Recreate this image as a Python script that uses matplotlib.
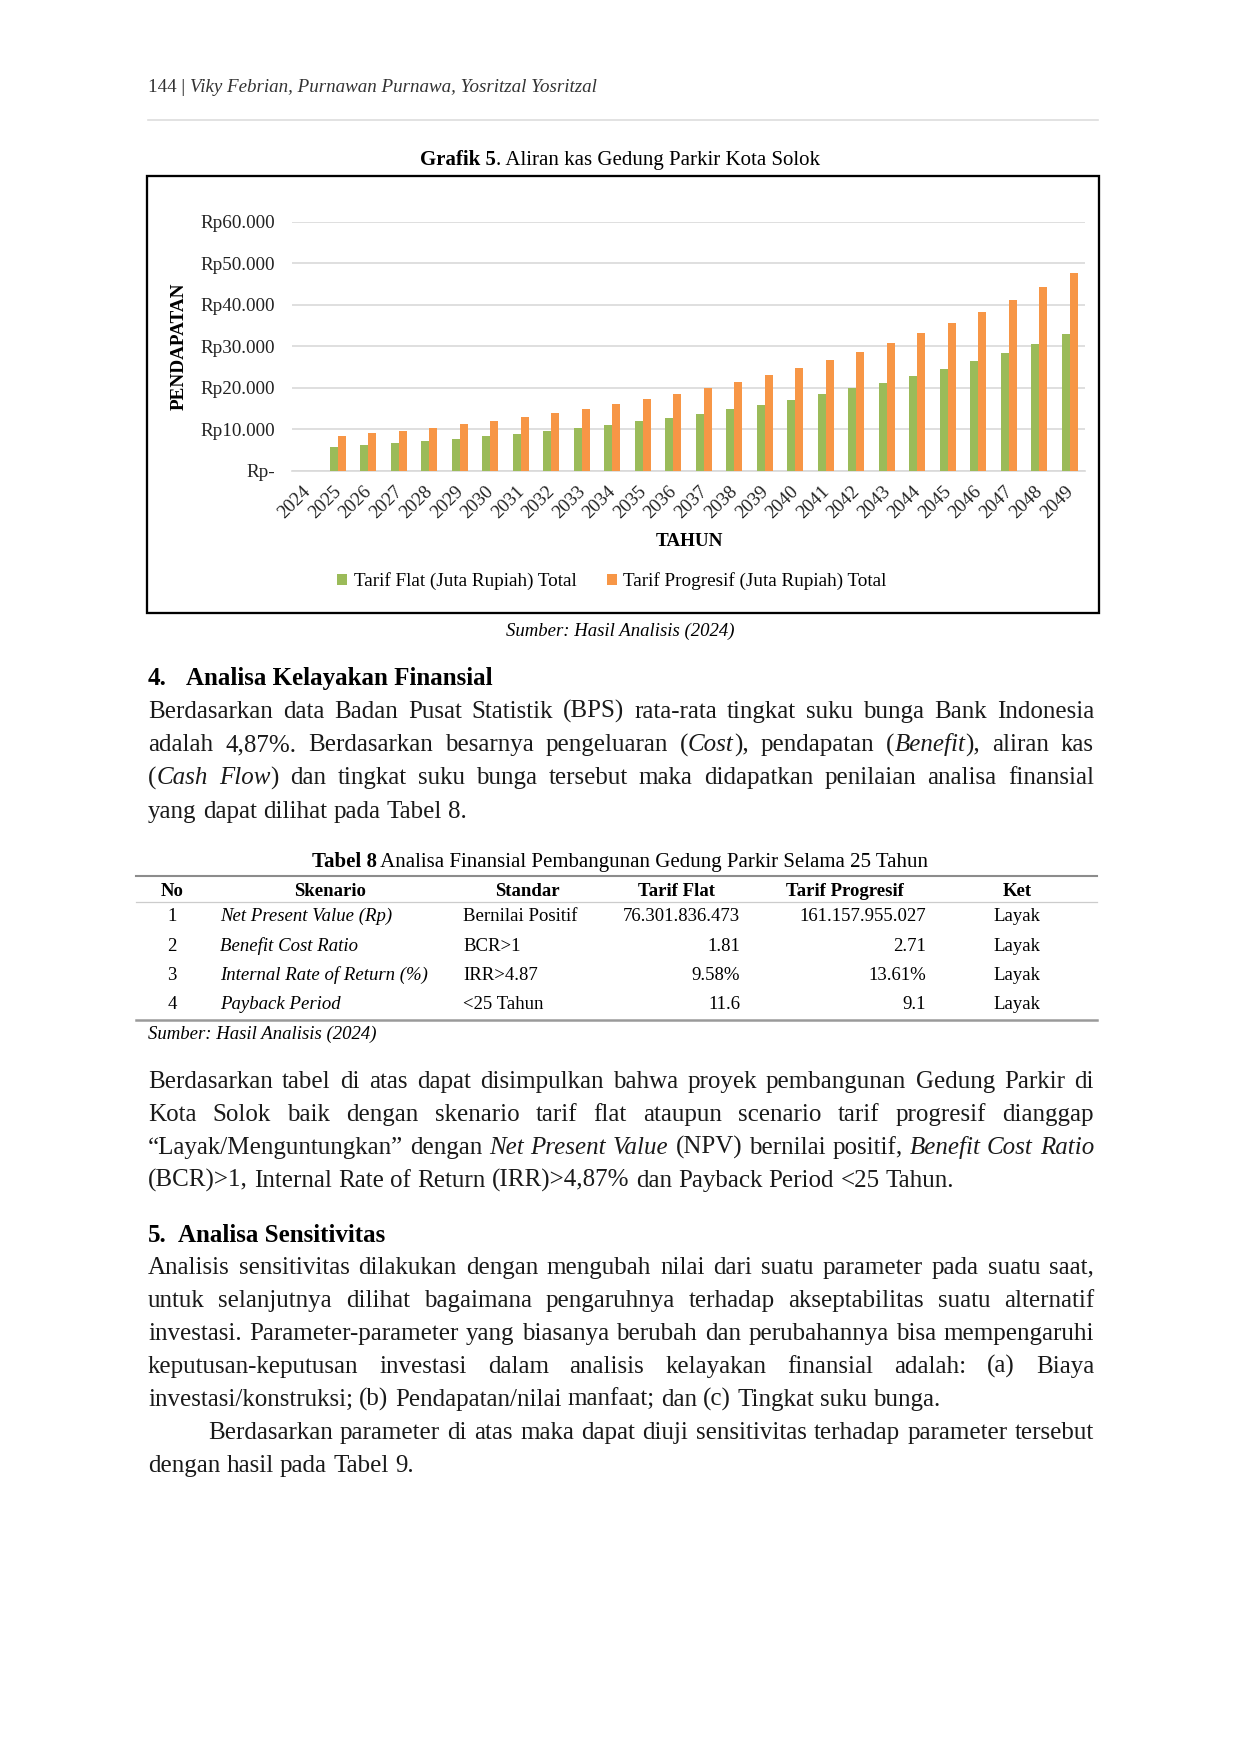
import matplotlib
matplotlib.use('Agg')
import matplotlib.pyplot as plt
import matplotlib.transforms as mtransforms
from matplotlib.patches import Rectangle
from matplotlib.ticker import FuncFormatter

W, H = 1241, 1754

# data (juta rupiah)
years = [str(y) for y in range(2024, 2050)]
flat = [0, 5780, 6260, 6750, 7230, 7710, 8270, 8900, 9640, 10360, 11080, 11970, 12770,
        13650, 14860, 15900, 17110, 18390, 19840, 21200, 22890, 24580, 26430, 28430, 30520, 32930]
prog = [0, 8350, 9000, 9640, 10360, 11240, 12050, 12930, 13820, 14940, 16060, 17190, 18470,
        19920, 21450, 22970, 24820, 26670, 28670, 30680, 33090, 35580, 38230, 41040, 44180, 47630]
yticks = [0, 10000, 20000, 30000, 40000, 50000, 60000]

# table 8
tbl_head = ['No', 'Skenario', 'Standar', 'Tarif Flat', 'Tarif Progresif', 'Ket']
tbl_no = ['1', '2', '3', '4']
tbl_skenario = ['Net Present Value (Rp)', 'Benefit Cost Ratio', 'Internal Rate of Return (%)', 'Payback Period']
tbl_standar = ['Bernilai Positif', 'BCR>1', 'IRR>4.87', '<25 Tahun']
tbl_flat = ['76.301.836.473', '1.81', '9.58%', '11.6']
tbl_prog = ['161.157.955.027', '2.71', '13.61%', '9.1']
tbl_ket = ['Layak', 'Layak', 'Layak', 'Layak']

para1 = [
    "Berdasarkan data Badan Pusat Statistik (BPS) rata-rata tingkat suku bunga Bank Indonesia",
    "adalah 4,87%. Berdasarkan besarnya pengeluaran (*Cost*), pendapatan (*Benefit*), aliran kas",
    "(*Cash Flow*) dan tingkat suku bunga tersebut maka didapatkan penilaian analisa finansial",
    "yang dapat dilihat pada Tabel 8.",
]
para2 = [
    "Berdasarkan tabel di atas dapat disimpulkan bahwa proyek pembangunan Gedung Parkir di",
    "Kota Solok baik dengan skenario tarif flat ataupun scenario tarif progresif dianggap",
    "\u201cLayak/Menguntungkan\u201d dengan *Net Present Value* (NPV) bernilai positif, *Benefit Cost Ratio*",
    "(BCR)>1, Internal Rate of Return (IRR)>4,87% dan Payback Period <25 Tahun.",
]
para3 = [
    "Analisis sensitivitas dilakukan dengan mengubah nilai dari suatu parameter pada suatu saat,",
    "untuk selanjutnya dilihat bagaimana pengaruhnya terhadap akseptabilitas suatu alternatif",
    "investasi. Parameter-parameter yang biasanya berubah dan perubahannya bisa mempengaruhi",
    "keputusan-keputusan investasi dalam analisis kelayakan finansial adalah: (a) Biaya",
    "investasi/konstruksi; (b) Pendapatan/nilai manfaat; dan (c) Tingkat suku bunga.",
]
para4 = [
    "Berdasarkan parameter di atas maka dapat diuji sensitivitas terhadap parameter tersebut",
    "dengan hasil pada Tabel 9.",
]

plt.rcParams['font.family'] = ['Liberation Serif', 'DejaVu Serif']

fig = plt.figure(figsize=(W / 150, H / 150), dpi=150)
page = fig.add_axes([0, 0, 1, 1])
page.set_xlim(0, W)
page.set_ylim(H, 0)
page.axis('off')
renderer = fig.canvas.get_renderer()


def text_w(txt, size, style='normal', weight='normal'):
    t = page.text(0, 0, txt, fontsize=size, style=style, weight=weight)
    w = t.get_window_extent(renderer).width
    t.remove()
    return w


def split_words(line):
    pieces = [(p, i % 2 == 1) for i, p in enumerate(line.split('*')) if p]
    words = [[]]
    for txt, it in pieces:
        for k, c in enumerate(txt.split(' ')):
            if k > 0:
                words.append([])
            if c:
                words[-1].append((c, it))
    return [w for w in words if w]


def draw_line(x0, y, line, size, x1=None, weight='normal'):
    words = split_words(line)
    widths = []
    for w in words:
        widths.append([text_w(c, size, 'italic' if it else 'normal', weight) for c, it in w])
    total = sum(sum(ws) for ws in widths)
    if x1 is not None and len(words) > 1:
        gap = (x1 - x0 - total) / (len(words) - 1)
    else:
        gap = text_w('a a', size, weight=weight) - text_w('aa', size, weight=weight)
    x = x0
    for w, ws in zip(words, widths):
        for (c, it), cw in zip(w, ws):
            page.text(x, y, c, fontsize=size, style='italic' if it else 'normal',
                      weight=weight, ha='left', va='baseline', color='#1a1a1a')
            x += cw
        x += gap


def draw_para(lines, y0, step, x0=148, x1=1094, size=12, indent=0):
    for i, ln in enumerate(lines):
        last = i == len(lines) - 1
        draw_line(x0 + (indent if i == 0 else 0), y0 + i * step, ln, size,
                  None if last else x1)


def centered_caption(xc, y, bold_part, rest, size):
    wb = text_w(bold_part, size, weight='bold')
    wr = text_w(rest, size)
    x = xc - (wb + wr) / 2
    page.text(x, y, bold_part, fontsize=size, weight='bold', ha='left', va='baseline')
    page.text(x + wb, y, rest, fontsize=size, ha='left', va='baseline')


# page header
hx = 148
page.text(hx, 92, '144 | ', fontsize=9.1, ha='left', va='baseline', color='#333333')
page.text(hx + text_w('144 | ', 9.1), 92, 'Viky Febrian, Purnawan Purnawa, Yosritzal Yosritzal',
          fontsize=9.1, style='italic', ha='left', va='baseline', color='#333333')
page.plot([148, 1098], [120, 120], color='#dddddd', lw=0.8)

centered_caption(620, 165, 'Grafik 5', '. Aliran kas Gedung Parkir Kota Solok', 10)

# chart frame
page.add_patch(Rectangle((147, 176), 952, 437, fill=False, ec='black', lw=1.1))

cs = 9.2  # chart font size
ax = fig.add_axes([292 / W, 1 - 470.7 / H, (1085 - 292) / W, (470.7 - 221.7) / H])
x = list(range(len(years)))
bw = 0.27
ax.bar([i - bw / 2 for i in x], flat, width=bw, color='#9BBB59', label='Tarif Flat (Juta Rupiah) Total', zorder=3)
ax.bar([i + bw / 2 for i in x], prog, width=bw, color='#F79646', label='Tarif Progresif (Juta Rupiah) Total', zorder=3)
ax.set_xlim(-0.5, len(years) - 0.5)
ax.set_ylim(0, 60000)
ax.set_yticks(yticks)
ax.yaxis.set_major_formatter(FuncFormatter(lambda v, p: 'Rp-' if v == 0 else 'Rp' + f'{int(v):,}'.replace(',', '.')))
ax.set_xticks(x)
ax.set_xticklabels(years, rotation=45, ha='right')
ax.tick_params(axis='both', length=0, labelsize=cs, colors='#222222')
ax.tick_params(axis='y', pad=8)
ax.tick_params(axis='x', pad=6)
shift = mtransforms.ScaledTranslation(7 / 150, 0, fig.dpi_scale_trans)
for lab in ax.get_xticklabels():
    lab.set_transform(lab.get_transform() + shift)
ax.grid(axis='y', color='#d9d9d9', lw=0.8, zorder=0)
for s in ['top', 'right', 'left']:
    ax.spines[s].set_visible(False)
ax.spines['bottom'].set_color('#d9d9d9')
ax.spines['bottom'].set_linewidth(0.8)
ax.patch.set_alpha(0)

page.text(179, 346, 'PENDAPATAN', rotation=90, fontsize=cs, weight='bold', ha='center', va='center')
page.text(689, 542, 'TAHUN', fontsize=cs, weight='bold', ha='center', va='center')
ax.legend(loc='center', bbox_to_anchor=(612 / W, 1 - 581 / H), bbox_transform=fig.transFigure,
          ncol=2, frameon=False, fontsize=cs, handlelength=0.5, handleheight=0.5,
          handletextpad=0.35, columnspacing=1.6)

page.text(620, 636, 'Sumber: Hasil Analisis (2024)', fontsize=9, style='italic', ha='center', va='baseline')

# section 4
page.text(148, 685, '4.', fontsize=12, weight='bold', ha='left', va='baseline')
page.text(186, 685, 'Analisa Kelayakan Finansial', fontsize=12, weight='bold', ha='left', va='baseline')
draw_para(para1, 718, 33.2)

# table 8
centered_caption(620, 867, 'Tabel 8', ' Analisa Finansial Pembangunan Gedung Parkir Selama 25 Tahun', 10)
page.plot([136, 1097], [876, 876], color='#8c8c8c', lw=1.0)
page.plot([136, 1097], [902, 902], color='#cccccc', lw=0.6)
page.plot([136, 1097], [1020, 1020], color='#9a9a9a', lw=1.2)
head_x = [172, 330, 527, 677, 845, 1017]
for hxx, h in zip(head_x, tbl_head):
    page.text(hxx, 896, h, fontsize=9, weight='bold', ha='center', va='baseline')
row_y = [921, 951, 980, 1009]
for i, ry in enumerate(row_y):
    page.text(172, ry, tbl_no[i], fontsize=9, ha='center', va='baseline')
    page.text(220, ry, tbl_skenario[i], fontsize=9, style='italic', ha='left', va='baseline')
    page.text(463, ry, tbl_standar[i], fontsize=9, ha='left', va='baseline')
    page.text(740, ry, tbl_flat[i], fontsize=9, ha='right', va='baseline')
    page.text(926, ry, tbl_prog[i], fontsize=9, ha='right', va='baseline')
    page.text(1017, ry, tbl_ket[i], fontsize=9, ha='center', va='baseline')
page.text(148, 1039, 'Sumber: Hasil Analisis (2024)', fontsize=9, style='italic', ha='left', va='baseline')

draw_para(para2, 1088, 33.0)

# section 5
page.text(148, 1242, '5.', fontsize=12, weight='bold', ha='left', va='baseline')
page.text(178, 1242, 'Analisa Sensitivitas', fontsize=12, weight='bold', ha='left', va='baseline')
draw_para(para3, 1274, 33.0)
draw_para(para4, 1439, 33.0, indent=60)

fig.savefig('out.png', dpi=150)
